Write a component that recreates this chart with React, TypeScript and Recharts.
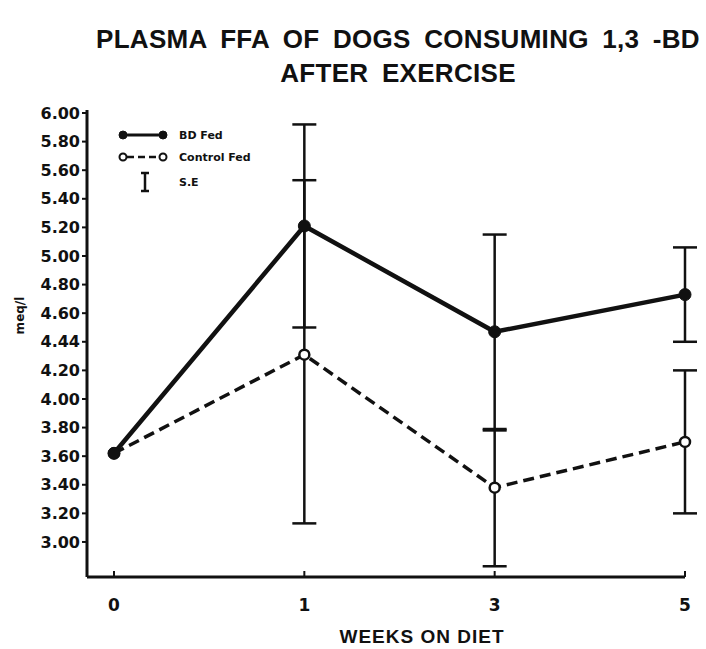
import { LineChart, Line, XAxis, YAxis, ErrorBar } from "recharts";

// weeks on diet (categories)
const weeks = ["0", "1", "3", "5"];
// plasma FFA, meq/l
const bdFed = [3.62, 5.21, 4.47, 4.73];
const bdFedSE: (number[] | null)[] = [null, [0.71, 0.71], [0.68, 0.68], [0.33, 0.33]];
const controlFed = [3.62, 4.31, 3.38, 3.7];
const controlFedSE: (number[] | null)[] = [null, [1.18, 1.22], [0.55, 0.4], [0.5, 0.5]];
// y tick values and the labels printed next to them
const yTicks = [3.0, 3.2, 3.4, 3.6, 3.8, 4.0, 4.2, 4.4, 4.6, 4.8, 5.0, 5.2, 5.4, 5.6, 5.8, 6.0];
const yTickLabels = ["3.00", "3.20", "3.40", "3.60", "3.80", "4.00", "4.20", "4.44", "4.60", "4.80", "5.00", "5.20", "5.40", "5.60", "5.80", "6.00"];

const data = weeks.map((w, i) => ({
  week: w,
  bd: bdFed[i],
  bdErr: bdFedSE[i],
  control: controlFed[i],
  controlErr: controlFedSE[i],
}));

const FONT = "'DejaVu Sans', sans-serif";

function yLabel(v: number) {
  const i = yTicks.findIndex((t) => Math.abs(t - v) < 1e-6);
  return i >= 0 ? yTickLabels[i] : String(v);
}

function WeekTick(props: any) {
  const { x, y, payload } = props;
  return (
    <g>
      <line x1={x} x2={x} y1={y} y2={y - 6} stroke="#111" strokeWidth={2} />
      <text x={x} y={y + 34} textAnchor="middle" fontFamily={FONT} fontWeight="bold" fontSize={17} fill="#111">
        {payload.value}
      </text>
    </g>
  );
}

// hand-drawn key in the top-left corner of the plot
function KeyBox() {
  return (
    <svg width={140} height={70} style={{ display: "block" }}>
      <g stroke="#111" fill="#111">
        <line x1={8} x2={48} y1={10} y2={10} strokeWidth={3} />
        <circle cx={8} cy={10} r={4} />
        <circle cx={48} cy={10} r={4} />
        <line x1={12} x2={44} y1={32} y2={32} strokeWidth={2.5} strokeDasharray="7 4" />
        <circle cx={8} cy={32} r={3.5} fill="#fff" strokeWidth={2} />
        <circle cx={48} cy={32} r={3.5} fill="#fff" strokeWidth={2} />
        <line x1={30} x2={30} y1={48} y2={66} strokeWidth={2.5} />
        <line x1={26} x2={34} y1={48} y2={48} strokeWidth={2.5} />
        <line x1={26} x2={34} y1={66} y2={66} strokeWidth={2.5} />
      </g>
      <g fontFamily={FONT} fontWeight="bold" fontSize={11} fill="#111">
        <text x={64} y={14}>BD Fed</text>
        <text x={64} y={36}>Control Fed</text>
        <text x={64} y={61}>S.E</text>
      </g>
    </svg>
  );
}

export default function App() {
  return (
    <div style={{ position: "absolute", left: 0, top: 0, width: 706, height: 649, background: "#fff" }}>
      <div
        style={{
          position: "absolute",
          left: 0,
          top: 22,
          width: 796,
          textAlign: "center",
          fontFamily: "'Liberation Sans', sans-serif",
          fontWeight: "bold",
          fontSize: 26,
          lineHeight: "34px",
          letterSpacing: 0.3,
          wordSpacing: 6,
          color: "#111",
        }}
      >
        PLASMA FFA OF DOGS CONSUMING 1,3 -BD
        <br />
        AFTER EXERCISE
      </div>
      <LineChart width={706} height={649} data={data} margin={{ top: 110, right: 21, left: 0, bottom: 0 }}>
        <XAxis
          dataKey="week"
          type="category"
          height={72}
          padding={{ left: 27, right: 0 }}
          tickSize={0}
          tickMargin={0}
          tick={<WeekTick />}
          axisLine={{ stroke: "#111", strokeWidth: 3 }}
          label={{
            value: "WEEKS ON DIET",
            position: "insideBottom",
            offset: 6,
            dx: 36,
            style: { fontFamily: "'Liberation Sans', sans-serif", fontWeight: "bold", fontSize: 19, letterSpacing: 1, fill: "#111" },
          }}
        />
        <YAxis
          type="number"
          domain={[2.755, 6.021]}
          allowDataOverflow
          ticks={yTicks}
          interval={0}
          width={87}
          tickSize={5}
          tickMargin={2}
          tickFormatter={yLabel}
          tick={{ fontFamily: FONT, fontWeight: "bold", fontSize: 16, fill: "#111" }}
          tickLine={{ stroke: "#111", strokeWidth: 2 }}
          axisLine={{ stroke: "#111", strokeWidth: 3 }}
          label={{
            value: "meq/l",
            angle: -90,
            position: "insideLeft",
            offset: 20,
            dy: -28,
            style: { fontFamily: FONT, fontWeight: "bold", fontSize: 12, fill: "#111", textAnchor: "middle" },
          }}
        />
        <Line
          dataKey="control"
          name="Control Fed"
          stroke="#111"
          strokeWidth={3.5}
          strokeDasharray="11 6"
          dot={{ r: 5, fill: "#fff", stroke: "#111", strokeWidth: 2.5, strokeDasharray: "0" }}
          isAnimationActive={false}
        >
          <ErrorBar dataKey="controlErr" direction="y" width={12} stroke="#111" strokeWidth={2.5} />
        </Line>
        <Line
          dataKey="bd"
          name="BD Fed"
          stroke="#111"
          strokeWidth={4.5}
          dot={{ r: 6, fill: "#111", stroke: "#111", strokeWidth: 1 }}
          isAnimationActive={false}
        >
          <ErrorBar dataKey="bdErr" direction="y" width={12} stroke="#111" strokeWidth={2.5} />
        </Line>
      </LineChart>
      <div style={{ position: "absolute", left: 115, top: 125 }}>
        <KeyBox />
      </div>
    </div>
  );
}
